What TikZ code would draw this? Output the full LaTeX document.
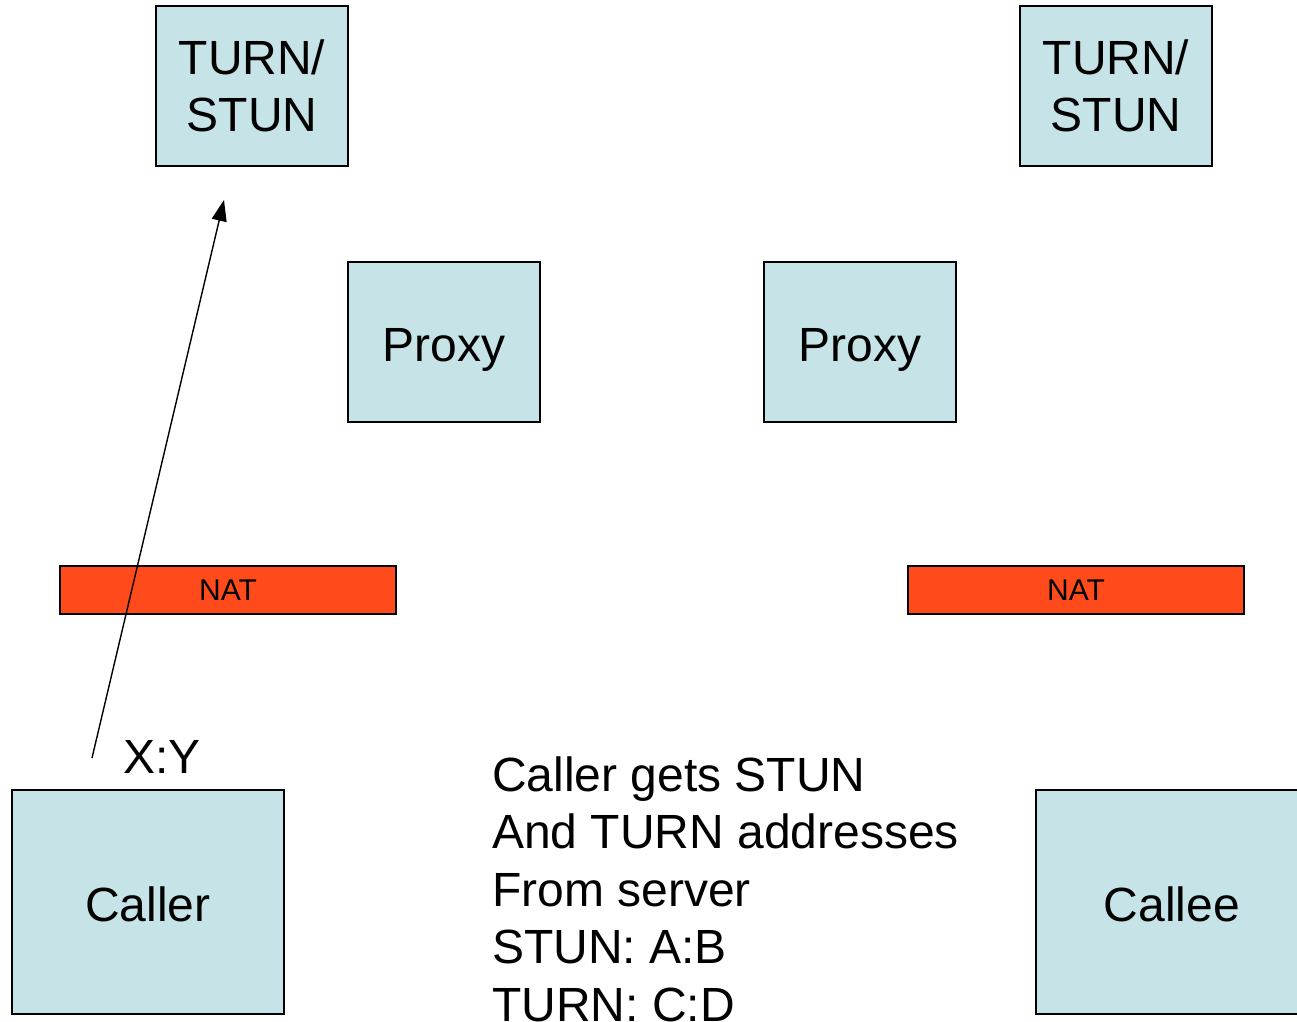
\documentclass[tikz,border=0pt]{standalone}
\usepackage{fontspec}
\setmainfont{Liberation Sans}
\usepackage{tikz}
\usetikzlibrary{arrows.meta}

\definecolor{boxblue}{HTML}{C6E4E8}
\definecolor{natred}{HTML}{FF4A1C}

\begin{document}
\begin{tikzpicture}[x=1pt,y=-1pt,
  srv/.style n args={2}{draw=black,line width=1.2pt,fill=boxblue,rectangle,minimum width=#1pt,minimum height=#2pt,inner sep=0pt,align=center,font=\fontsize{48}{57}\selectfont},
  oneline/.style={text height=44pt,text depth=6pt},
  nat/.style={draw=black,line width=1.2pt,fill=natred,rectangle,minimum width=336pt,minimum height=48pt,inner sep=0pt,font=\fontsize{30}{36}\selectfont},
  big/.style={inner sep=0pt,font=\fontsize{48}{57}\selectfont}]
\clip (0,0) rectangle (1297,1021);
\useasboundingbox (0,0) rectangle (1297,1021);
% servers and proxies
\node[srv={192}{160}] (stunL) at (252,86) {TURN/\\STUN};
\node[srv={192}{160}] (stunR) at (1116,86) {TURN/\\STUN};
\node[srv={192}{160},oneline] (proxyL) at (444,342) {Proxy};
\node[srv={192}{160},oneline] (proxyR) at (860,342) {Proxy};
% nats
\node[nat] (natL) at (228,590) {NAT};
\node[nat] (natR) at (1076,590) {NAT};
% end points
\node[srv={272}{224},oneline] (caller) at (148,902) {Caller};
\node[srv={272}{224},oneline] (callee) at (1172,902) {Callee};
\node[big,anchor=base west] (xy) at (123,773) {X:Y};
% request to the server
\coordinate (reqA) at (92,758);
\coordinate (reqB) at (224,200);
\draw[line width=1.4pt,-{Triangle[length=21pt,width=15pt]}] (reqA) -- (reqB);
\foreach \i/\1 in %
{0/Caller gets STUN,1/And TURN addresses,2/From server,3/STUN: A:B,4/TURN: C:D} {
   \node[big,anchor=base west] (info\i) at (492,791+57.5*\i) {\1};
}
\end{tikzpicture}
\end{document}
